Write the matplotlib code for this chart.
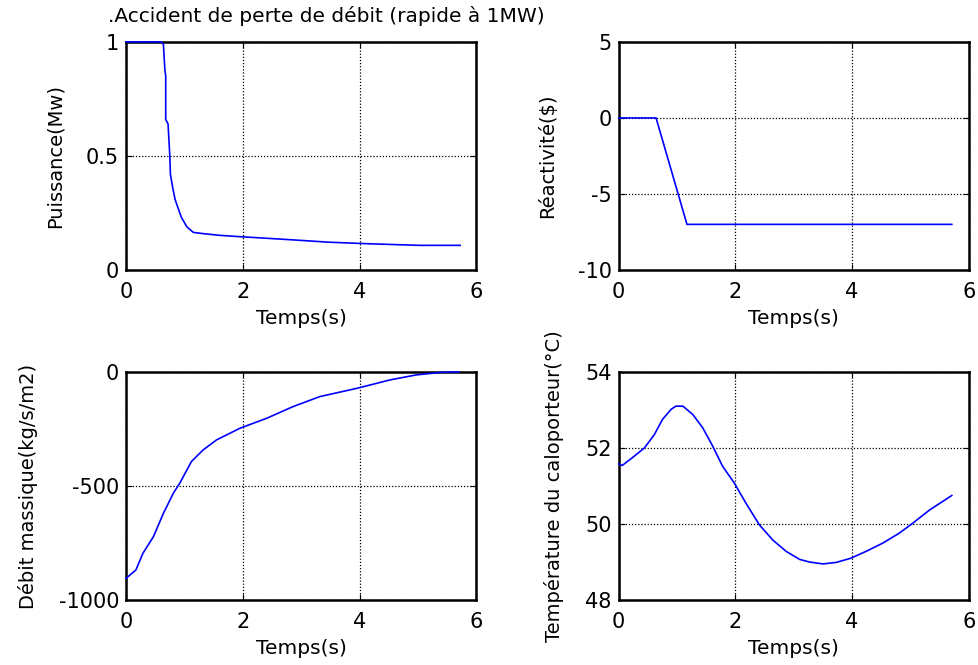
import matplotlib
matplotlib.use("Agg")
import matplotlib.pyplot as plt

plt.rcParams['font.family'] = ['DejaVu Sans']

# puissance (MW)
t_p = [0, 0.60, 0.64, 0.665, 0.68, 0.68, 0.72, 0.75, 0.76, 0.80, 0.84, 0.90, 0.95, 1.04,
       1.15, 1.30, 1.60, 1.95, 2.35, 2.86, 3.46, 4.15, 5.03, 5.72]
p = [1.0, 1.0, 0.99, 0.88, 0.85, 0.66, 0.64, 0.50, 0.42, 0.36, 0.31, 0.265, 0.23, 0.19,
     0.165, 0.16, 0.152, 0.146, 0.14, 0.132, 0.122, 0.115, 0.108, 0.108]

# reactivite ($)
t_r = [0, 0.64, 1.17, 5.71]
rho = [0, 0, -7, -7]

# debit massique (kg/s/m2)
t_d = [0, 0.17, 0.29, 0.47, 0.64, 0.81, 0.92, 1.12, 1.32, 1.55, 1.95, 2.41, 2.86, 3.32,
       3.95, 4.52, 4.97, 5.43, 5.70]
debit = [-905, -868, -795, -722, -620, -532, -488, -393, -342, -298, -247, -203, -152, -108,
         -72, -35, -13, -1, 0]

# temperature du caloporteur (C)
t_t = [0, 0.06, 0.23, 0.44, 0.61, 0.75, 0.90, 0.98, 1.10, 1.27, 1.44, 1.61, 1.78, 1.98,
       2.18, 2.41, 2.64, 2.87, 3.10, 3.27, 3.50, 3.73, 3.98, 4.24, 4.53, 4.81, 5.04, 5.33, 5.71]
temp = [51.58, 51.54, 51.74, 52.0, 52.35, 52.75, 53.02, 53.1, 53.1, 52.88, 52.53, 52.05,
        51.52, 51.08, 50.55, 49.98, 49.58, 49.28, 49.07, 49.0, 48.95, 48.99, 49.1, 49.28,
        49.5, 49.76, 50.02, 50.37, 50.75]

fig = plt.figure(figsize=(9.79, 6.65), dpi=100)

boxes = [[0.1287, 0.594, 0.358, 0.343], [0.632, 0.594, 0.3575, 0.343],
         [0.1287, 0.0977, 0.358, 0.343], [0.632, 0.0977, 0.3575, 0.343]]
series = [(t_p, p, 'Puissance(Mw)', (0, 1), [0, 0.5, 1], ['0', '0.5', '1']),
          (t_r, rho, 'Réactivité($)', (-10, 5), [-10, -5, 0, 5], ['-10', '-5', '0', '5']),
          (t_d, debit, 'Débit massique(kg/s/m2)', (-1000, 0), [-1000, -500, 0],
           ['-1000', '-500', '0']),
          (t_t, temp, 'Température du caloporteur(°C)', (48, 54), [48, 50, 52, 54],
           ['48', '50', '52', '54'])]

for box, (x, y, lab, lim, yt, ytl) in zip(boxes, series):
    ax = fig.add_axes(box)
    ax.plot(x, y, color='#0000ff', lw=1.2, clip_on=False, zorder=5)
    ax.set_xlim(0, 6)
    ax.set_ylim(*lim)
    ax.set_xticks([0, 2, 4, 6])
    ax.set_yticks(yt)
    ax.set_yticklabels(ytl)
    ax.grid(True, color='black', linestyle=(0, (1, 1.5)), linewidth=0.9)
    ax.tick_params(direction='in', top=True, right=True, labelsize=15, length=4)
    ax.tick_params(axis='x', pad=8.5)
    ax.tick_params(axis='y', pad=5)
    for s in ax.spines.values():
        s.set_linewidth(1.8)
    ax.set_xlabel('Temps(s)', fontsize=14.5, labelpad=5)
    ax.set_ylabel(lab, fontsize=14, labelpad=15)

fig.text(108 / 979, 1 - 6 / 665, '.Accident de perte de débit (rapide à 1MW)',
         fontsize=14.5, ha='left', va='top')

fig.savefig('out.png', dpi=100)
